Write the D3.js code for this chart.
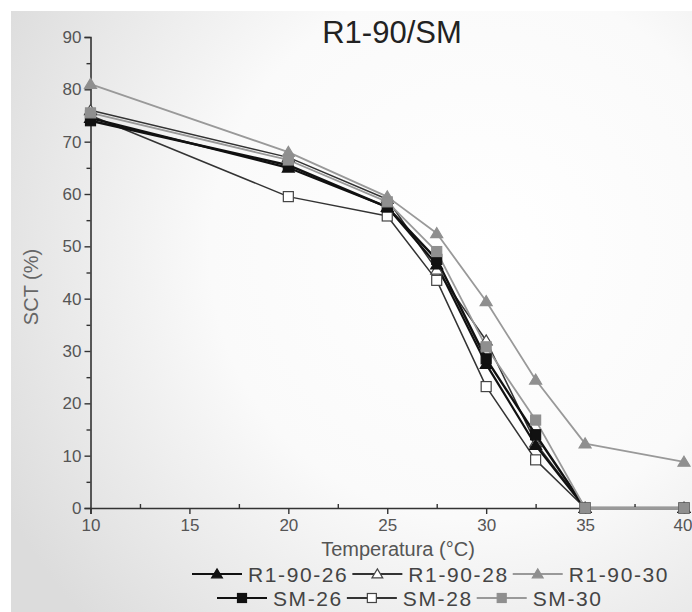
<!DOCTYPE html>
<html><head><meta charset="utf-8">
<script src="https://cdn.jsdelivr.net/npm/d3@7"></script>
<style>html,body{margin:0;padding:0;background:#fff;}svg{display:block;}</style>
</head><body>
<svg id="c" width="692" height="612"></svg>
<script>
const temps = [10, 20, 25, 27.5, 30, 32.5, 35, 40];
const seriesNames = ["R1-90-26", "R1-90-28", "R1-90-30", "SM-26", "SM-28", "SM-30"];
const r1_90_26 = [74.5, 65, 57.5, 46.5, 27.5, 12, 0, 0];
const r1_90_28 = [76, 67, 59, 45.5, 32, 12.5, 0, 0];
const r1_90_30 = [81, 68, 59.5, 52.5, 39.5, 24.5, 12.3, 8.8];
const sm_26 = [74, 65.5, 57.5, 47.5, 28.5, 14, 0, 0];
const sm_28 = [75, 59.5, 55.8, 43.5, 23.2, 9.2, 0, 0];
const sm_30 = [75.5, 66.5, 58.5, 49, 30.8, 16.8, 0, 0];
const xTicks = [10, 15, 20, 25, 30, 35, 40];
const yTicks = [0, 10, 20, 30, 40, 50, 60, 70, 80, 90];
const title = "R1-90/SM";
const xLabel = "Temperatura (°C)";
const yLabel = "SCT (%)";

const styles = {
  "R1-90-26": {shape: "tri", fill: "#111", stroke: "#111", line: "#111", w: 2.2},
  "R1-90-28": {shape: "tri", fill: "#fff", stroke: "#444", line: "#333", w: 1.5},
  "R1-90-30": {shape: "tri", fill: "#8f8f8f", stroke: "#8f8f8f", line: "#999", w: 1.8},
  "SM-26": {shape: "sq", fill: "#111", stroke: "#111", line: "#111", w: 2.4},
  "SM-28": {shape: "sq", fill: "#fff", stroke: "#444", line: "#333", w: 1.5},
  "SM-30": {shape: "sq", fill: "#8f8f8f", stroke: "#8f8f8f", line: "#999", w: 1.8}
};
const values = [r1_90_26, r1_90_28, r1_90_30, sm_26, sm_28, sm_30];
const series = seriesNames.map((n, i) => ({name: n, vals: values[i]}));

const svg = d3.select("#c");
const defs = svg.append("defs");
const rg = defs.append("radialGradient").attr("id", "bg")
  .attr("gradientUnits", "userSpaceOnUse")
  .attr("cx", 480).attr("cy", 250).attr("r", 540);
rg.append("stop").attr("offset", "0%").attr("stop-color", "#ffffff");
rg.append("stop").attr("offset", "50%").attr("stop-color", "#fafafa");
rg.append("stop").attr("offset", "100%").attr("stop-color", "#dcdcdc");
svg.append("rect").attr("x", 11).attr("y", 11).attr("width", 681).attr("height", 601).attr("fill", "url(#bg)");

const x = d3.scaleLinear().domain([10, 40]).range([90.5, 684]);
const y = d3.scaleLinear().domain([0, 90]).range([508, 37]);

// axes
const axisColor = "#333";
const gx = svg.append("g").attr("transform", `translate(0,${y(0)})`);
gx.call(d3.axisBottom(x).tickValues(xTicks).tickSize(6).tickPadding(3).tickFormat(d3.format("d")));
const gxm = svg.append("g").attr("transform", `translate(0,${y(0)})`);
gxm.call(d3.axisTop(x).tickValues(d3.range(12.5, 40, 5)).tickSize(4).tickFormat(""));
gxm.select(".domain").remove();

const gy = svg.append("g").attr("transform", `translate(${x(10)},0)`);
gy.call(d3.axisLeft(y).tickValues(yTicks).tickSize(6).tickPadding(3).tickFormat(d3.format("d")));
const gym = svg.append("g").attr("transform", `translate(${x(10)},0)`);
gym.call(d3.axisLeft(y).tickValues(d3.range(5, 90, 10)).tickSize(4).tickFormat(""));
gym.select(".domain").remove();

svg.selectAll(".domain").attr("stroke", axisColor).attr("stroke-width", 1.6);
svg.selectAll(".tick line").attr("stroke", axisColor).attr("stroke-width", 1.4);
svg.selectAll(".tick text").attr("fill", "#555").style("font-family", "Liberation Sans, Arial, sans-serif").style("font-size", "17px");
gx.selectAll(".tick text").attr("dy", "0.85em");
gx.selectAll(".tick text").filter(d => d === 40).attr("text-anchor", "end").attr("dx", "8px");

// title & labels
svg.append("text").attr("x", 392).attr("y", 43).attr("text-anchor", "middle")
  .style("font-family", "Liberation Sans, Arial, sans-serif").style("font-size", "31px").attr("fill", "#222").text(title);
svg.append("text").attr("x", 398).attr("y", 556).attr("text-anchor", "middle")
  .style("font-family", "Liberation Sans, Arial, sans-serif").style("font-size", "20px").attr("fill", "#555").text(xLabel);
svg.append("text").attr("transform", `translate(38,287) rotate(-90)`).attr("text-anchor", "middle")
  .style("font-family", "Liberation Sans, Arial, sans-serif").style("font-size", "20px").attr("fill", "#666").text(yLabel);

// lines
const line = d3.line().x((d, i) => x(temps[i])).y(d => y(d));
const drawOrder = ["SM-28", "R1-90-28", "R1-90-30", "R1-90-26", "SM-26", "SM-30"];
const byName = Object.fromEntries(series.map(s => [s.name, s]));
const plot = svg.append("g");
drawOrder.forEach(n => {
  const s = byName[n], st = styles[n];
  plot.append("path").datum(s.vals).attr("d", line).attr("fill", "none")
    .attr("stroke", st.line).attr("stroke-width", st.w).attr("stroke-linejoin", "round");
});
function marker(g, cx, cy, st, sz) {
  if (st.shape === "tri") {
    const h = sz * 0.95, w = sz * 0.6;
    g.append("path").attr("d", `M${cx},${cy - h * 0.6}L${cx + w},${cy + h * 0.45}L${cx - w},${cy + h * 0.45}Z`)
      .attr("fill", st.fill).attr("stroke", st.stroke).attr("stroke-width", 1.2);
  } else {
    g.append("rect").attr("x", cx - sz / 2).attr("y", cy - sz / 2).attr("width", sz).attr("height", sz)
      .attr("fill", st.fill).attr("stroke", st.stroke).attr("stroke-width", 1.2);
  }
}
drawOrder.forEach(n => {
  const s = byName[n], st = styles[n];
  s.vals.forEach((v, i) => marker(plot, x(temps[i]), y(v), st, 10));
});

// legend
const leg = svg.append("g").style("font-family", "Liberation Sans, Arial, sans-serif").style("font-size", "21px");
const rows = [
  {y: 574, x0: 192, items: ["R1-90-26", "R1-90-28", "R1-90-30"]},
  {y: 598, x0: 217, items: ["SM-26", "SM-28", "SM-30"]}
];
rows.forEach(r => {
  let cx = r.x0;
  r.items.forEach(n => {
    const st = styles[n];
    const sw = 50;
    leg.append("line").attr("x1", cx).attr("x2", cx + sw).attr("y1", r.y).attr("y2", r.y)
      .attr("stroke", st.line).attr("stroke-width", 2.2);
    marker(leg, cx + sw / 2, r.y, st, 9);
    const t = leg.append("text").attr("x", cx + sw + 6).attr("y", r.y + 8).attr("fill", "#444")
      .style("letter-spacing", "1.6px").text(n);
    cx = cx + sw + 6 + t.node().getComputedTextLength() + 4;
  });
});
</script>
</body></html>
